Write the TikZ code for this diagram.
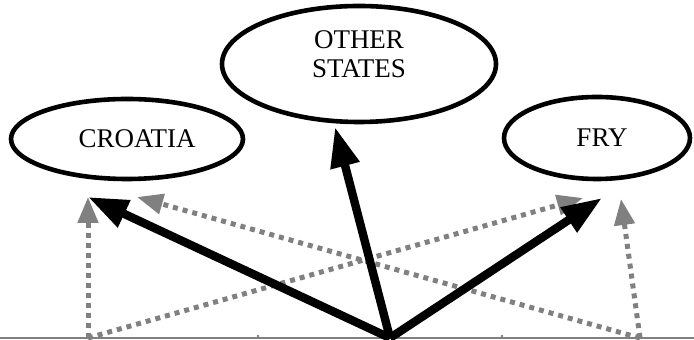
\documentclass[tikz,border=0pt]{standalone}
\usepackage{fontspec}
\setmainfont{Liberation Serif}
\usetikzlibrary{shapes.geometric, arrows.meta}

\begin{document}
\begin{tikzpicture}[x=0.5pt, y=-0.5pt,
    state/.style={ellipse, draw, line width=2.3pt, align=center, inner sep=0pt,
        font=\fontsize{13.5}{14.5}\selectfont},
    flow/.style={line width=4.2pt, -{Triangle[length=20pt,width=14pt]}},
    drift/.style={gray, line width=2.5pt, dash pattern=on 2.5pt off 2.5pt,
        -{Triangle[length=13pt,width=10pt]}}]
  \useasboundingbox (0,0) rectangle (694,340);
  % states
  \node[state, minimum width=116pt, minimum height=40pt] (croatia) at (127,139) {\hspace{10pt}CROATIA};
  \node[state, minimum width=137pt, minimum height=58pt] (other) at (359,64) {OTHER\\STATES\\[-5pt]};
  \node[state, minimum width=93pt, minimum height=41pt] (fry) at (597,138) {\hspace{5pt}FRY};
  % ground line
  \coordinate (lend) at (0,338);
  \coordinate (rend) at (694,338);
  \draw[gray, line width=0.75pt] (lend) -- (rend);
  \draw[gray, line width=0.75pt] (258,338) -- (258,335);
  \draw[gray, line width=0.75pt] (502,338) -- (502,335);
  % feet and tips
  \coordinate (lfoot) at (88,338);
  \coordinate (apex) at (390,338);
  \coordinate (rfoot) at (640,338);
  \coordinate (hr-up) at (88,197);
  \coordinate (hr-in) at (137,197);
  \coordinate (fry-in) at (583,198);
  \coordinate (fry-up) at (621,199);
  \coordinate (hr-main) at (88,197);
  \coordinate (os-main) at (335,127);
  \coordinate (fry-main) at (602,198);
  % dotted shifts
  \draw[drift] (lfoot) -- (hr-up);
  \draw[drift] (lfoot) -- (fry-in);
  \draw[drift] (rfoot) -- (fry-up);
  \draw[drift] (rfoot) -- (hr-in);
  % main flows
  \draw[flow] (apex) -- (hr-main);
  \draw[flow] (apex) -- (os-main);
  \draw[flow] (apex) -- (fry-main);
\end{tikzpicture}
\end{document}
